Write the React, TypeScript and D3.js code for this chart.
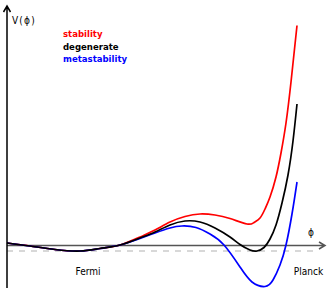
import React, { useEffect, useRef } from "react";
import * as d3 from "d3";

// [phi, V] pairs
const sharedStart: [number, number][] = [
  [0, 0.25], [2.3, -0.05], [4.8, -0.4], [7.3, -0.55], [9.3, -0.3], [11.3, 0.05],
];
const stabilityTail: [number, number][] = [
  [13.3, 0.85], [14.8, 1.55], [16.3, 2.35], [17.8, 2.9], [19.3, 3.15], [20.8, 3.05],
  [22.3, 2.7], [24, 2.15], [24.7, 2.3], [25.3, 2.75], [25.8, 3.65], [26.3, 4.85],
  [26.9, 6.85], [27.4, 9.25], [27.9, 12.25], [28.4, 16.35], [29, 22],
];
const degenerateTail: [number, number][] = [
  [13.3, 0.75], [14.8, 1.35], [16.3, 2.05], [17.8, 2.45], [19.3, 2.35], [20.8, 1.75],
  [22.3, 0.85], [23.3, 0.1], [24.3, -0.45], [25, -0.55], [25.7, -0.2], [26.3, 0.65],
  [26.9, 2.05], [27.5, 4.25], [28.1, 7.05], [28.6, 10.45], [29, 14.15],
];
const metastabilityTail: [number, number][] = [
  [13.3, 0.7], [14.8, 1.25], [16.3, 1.75], [17.5, 1.95], [18.9, 1.8], [20.3, 1.15],
  [21.7, 0.05], [23.3, -2.15], [24.5, -3.65], [25.8, -4.1], [26.6, -3.45], [27.3, -1.95],
  [27.9, 0.05], [28.5, 3.15], [29, 6.35],
];

const seriesNames = ["stability", "degenerate", "metastability"];
const seriesColors = ["#ff0000", "#000000", "#0000ff"];
const seriesData = [stabilityTail, degenerateTail, metastabilityTail].map((t) => sharedStart.concat(t));

const xLabels = [
  { text: "Fermi", phi: 8.1 },
  { text: "Planck", phi: 30.15 },
];

const App = () => {
  const svgRef = useRef<SVGSVGElement>(null);

  useEffect(() => {
    const svg = d3.select(svgRef.current);
    svg.selectAll("*").remove();

    const width = 332;
    const height = 291;
    const font = "'DejaVu Sans Condensed', 'DejaVu Sans', sans-serif";

    const x = d3.scaleLinear().domain([0, 29]).range([7, 297]);
    const y = d3.scaleLinear().domain([0, 22]).range([245.5, 25.5]);

    svg.attr("width", width).attr("height", height).attr("viewBox", [0, 0, width, height]);

    // dashed reference (false vacuum depth)
    svg
      .append("line")
      .attr("x1", x(0))
      .attr("x2", 318)
      .attr("y1", y(-0.55))
      .attr("y2", y(-0.55))
      .attr("stroke", "#cccccc")
      .attr("stroke-width", 1.5)
      .attr("stroke-dasharray", "6,6");

    // phi axis
    const x0 = x(0);
    const y0 = y(0);
    svg
      .append("path")
      .attr("d", `M${x0},${y0}H325M319,${y0 - 3.5}L325,${y0}L319,${y0 + 3.5}`)
      .attr("fill", "none")
      .attr("stroke", "#555555")
      .attr("stroke-width", 1.5);

    const line = d3
      .line<[number, number]>()
      .x((d) => x(d[0]))
      .y((d) => y(d[1]))
      .curve(d3.curveNatural);

    // red, blue, then black on top
    [0, 2, 1].forEach((i) => {
      svg
        .append("path")
        .datum(seriesData[i])
        .attr("fill", "none")
        .attr("stroke", seriesColors[i])
        .attr("stroke-width", 1.7)
        .attr("d", line);
    });

    // V axis
    svg
      .append("path")
      .attr("d", `M${x0},288V6M${x0 - 3.5},12L${x0},6L${x0 + 3.5},12`)
      .attr("fill", "none")
      .attr("stroke", "#000000")
      .attr("stroke-width", 1.5);

    svg
      .append("text")
      .attr("x", 12)
      .attr("y", 24)
      .attr("font-family", font)
      .attr("font-size", 10)
      .attr("letter-spacing", 1.2)
      .text("V(ϕ)");

    svg
      .append("text")
      .attr("x", 308)
      .attr("y", 236)
      .attr("font-family", font)
      .attr("font-size", 10)
      .text("ϕ");

    svg
      .selectAll(".legend")
      .data(seriesNames)
      .join("text")
      .attr("class", "legend")
      .attr("x", 63)
      .attr("y", (d, i) => 37 + i * 12.5)
      .attr("font-family", font)
      .attr("font-size", 9.5)
      .attr("font-weight", "bold")
      .attr("fill", (d, i) => seriesColors[i])
      .text((d) => d);

    svg
      .selectAll(".xlabel")
      .data(xLabels)
      .join("text")
      .attr("class", "xlabel")
      .attr("x", (d) => x(d.phi))
      .attr("y", 275)
      .attr("font-family", font)
      .attr("font-size", 10)
      .attr("text-anchor", "middle")
      .text((d) => d.text);
  }, []);

  return <svg ref={svgRef} style={{ position: "absolute", left: 0, top: 0 }}></svg>;
};

export default App;
